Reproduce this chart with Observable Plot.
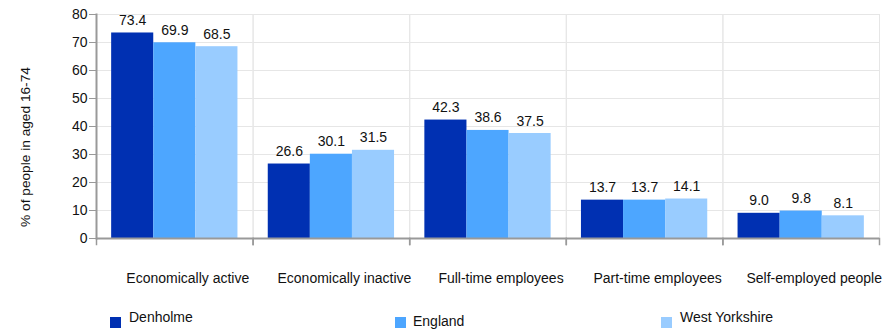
<!DOCTYPE html>
<html>
<head>
<meta charset="utf-8">
<script src="https://cdn.jsdelivr.net/npm/d3@7"></script>
<script src="https://cdn.jsdelivr.net/npm/@observablehq/plot@0.6"></script>
<style>
  html, body { margin: 0; padding: 0; background: #fff; }
  #wrap { position: relative; width: 886px; height: 330px; overflow: hidden; font-family: "Liberation Sans", Arial, sans-serif; color: #111; }
  #chart { position: absolute; left: 0; top: 0; }
  .ylabel { position: absolute; left: 25px; top: 147px; transform: translate(-50%, -50%) rotate(-90deg); white-space: nowrap; font-size: 13.7px; }
  .lg { position: absolute; font-size: 14px; line-height: 14px; white-space: nowrap; }
  .sw { position: absolute; width: 11px; height: 11px; }
</style>
</head>
<body>
<div id="wrap">
  <div id="chart"></div>
  <div class="ylabel">% of people in aged 16-74</div>
  <div id="legend"></div>
</div>
<script>
const categories = ["Economically active", "Economically inactive", "Full-time employees", "Part-time employees", "Self-employed people"];
const series = ["Denholme", "England", "West Yorkshire"];
const denholme = [73.4, 26.6, 42.3, 13.7, 9.0];
const england = [69.9, 30.1, 38.6, 13.7, 9.8];
const westYorkshire = [68.5, 31.5, 37.5, 14.1, 8.1];
const colors = ["#0030b2", "#4da6ff", "#99ccff"];
const yTicks = [0, 10, 20, 30, 40, 50, 60, 70, 80];

const seriesValues = [denholme, england, westYorkshire];
const data = categories.flatMap((c, i) => series.map((s, j) => ({category: c, series: s, value: seriesValues[j][i]})));

const chart = Plot.plot({
  width: 886,
  height: 330,
  marginLeft: 96,
  marginRight: 7,
  marginTop: 14,
  marginBottom: 92,
  style: {fontFamily: "'Liberation Sans', Arial, sans-serif", fontSize: "13px", color: "#111", background: "transparent"},
  fx: {domain: categories, padding: 0, round: false, label: null},
  x: {domain: series, paddingInner: 0, paddingOuter: 0.36, round: false, axis: null},
  y: {domain: [0, 80], ticks: yTicks, label: null},
  color: {domain: series, range: colors},
  marks: [
    Plot.gridY(yTicks, {stroke: "#e6e6e6", strokeOpacity: 1}),
    Plot.frame({stroke: "#e6e6e6"}),
    Plot.barY(data, {fx: "category", x: "series", y: "value", fill: "series"}),
    Plot.text(data, {fx: "category", x: "series", y: "value", text: d => d.value.toFixed(1), lineAnchor: "bottom", dy: -8, fontSize: 14, fill: "#111"}),
    Plot.ruleY([0], {stroke: "#999", strokeWidth: 2}),
    Plot.frame({anchor: "left", stroke: "#999", strokeWidth: 1.5, insetTop: 224, insetBottom: -6}),
    Plot.frame({anchor: "right", stroke: "#999", strokeWidth: 1.5, insetTop: 224, insetBottom: -6}),
    Plot.frame({anchor: "left", facetAnchor: "left", stroke: "#999", strokeWidth: 2}),
    Plot.axisY({ticks: yTicks, tickSize: 7, tickPadding: 2, stroke: "#999", fill: "#111", fontSize: 14, label: null}),
    Plot.axisFx({anchor: "bottom", tickSize: 0, tickPadding: 35, fontSize: 14, dx: 13, fill: "#111", label: null})
  ]
});
document.getElementById("chart").appendChild(chart);

// legend
const legendPos = [
  {sx: 110, sy: 317, tx: 129, ty: 310},
  {sx: 395, sy: 317, tx: 413, ty: 314},
  {sx: 661, sy: 317, tx: 680, ty: 310}
];
const legend = document.getElementById("legend");
series.forEach((s, i) => {
  const p = legendPos[i];
  const sw = document.createElement("div");
  sw.className = "sw";
  sw.style.left = p.sx + "px";
  sw.style.top = p.sy + "px";
  sw.style.background = colors[i];
  legend.appendChild(sw);
  const t = document.createElement("div");
  t.className = "lg";
  t.style.left = p.tx + "px";
  t.style.top = p.ty + "px";
  t.textContent = s;
  legend.appendChild(t);
});
</script>
</body>
</html>
